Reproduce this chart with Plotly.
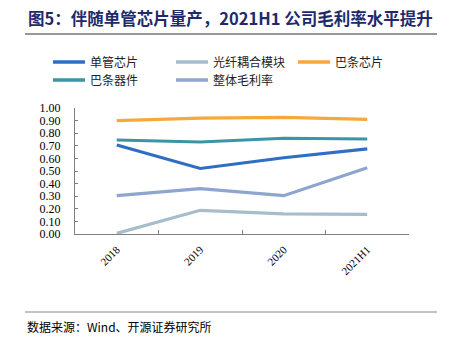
import plotly.graph_objects as go

categories = ["2018", "2019", "2020", "2021H1"]
series_names = ["单管芯片", "光纤耦合模块", "巴条芯片", "巴条器件", "整体毛利率"]
dan_guan = [0.706, 0.52, 0.605, 0.675]
guang_xian = [0.005, 0.188, 0.159, 0.156]
ba_tiao_xinpian = [0.90, 0.92, 0.925, 0.91]
ba_tiao_qijian = [0.746, 0.73, 0.76, 0.754]
zheng_ti = [0.304, 0.36, 0.304, 0.526]
colors = ["#2F6EC2", "#A6BDCB", "#F6A93B", "#3A95A6", "#8EA5CF"]
yticks = [0.0, 0.1, 0.2, 0.3, 0.4, 0.5, 0.6, 0.7, 0.8, 0.9, 1.0]

values = [dan_guan, guang_xian, ba_tiao_xinpian, ba_tiao_qijian, zheng_ti]

# plot area in pixels
L, R, T, B = 75, 409, 108, 234
W, H = R - L, B - T


def px(x):
    return (x - L) / W


def py(y):
    return (B - y) / H


fig = go.Figure()
for name, vals, c in zip(series_names, values, colors):
    fig.add_trace(go.Scatter(x=categories, y=vals, name=name, mode="lines",
                             line=dict(color=c, width=3.2), showlegend=False))

serif = "Liberation Serif, Noto Sans CJK SC, serif"
fig.update_layout(
    width=450, height=346,
    margin=dict(l=L, r=450 - R, t=T, b=346 - B),
    paper_bgcolor="white", plot_bgcolor="white",
    xaxis=dict(type="category", range=[-0.5, 3.5], showline=True, linecolor="#808080", linewidth=1,
               ticks="inside", ticklen=4, tickcolor="#808080", tickson="boundaries",
               tickangle=-45, showgrid=False, zeroline=False, ticklabelstandoff=4,
               tickfont=dict(family=serif, size=11, color="#000")),
    yaxis=dict(range=[0, 1.0], tickvals=yticks, tickformat=".2f",
               showline=True, linecolor="#808080", linewidth=1,
               ticks="inside", ticklen=3, tickcolor="#808080",
               showgrid=False, zeroline=False, ticklabelstandoff=11,
               tickfont=dict(family=serif, size=12, color="#000")),
)

# manual legend
legend_pos = [(53, 62), (176, 62), (298, 62), (53, 80), (176, 80)]
for name, c, (lx, ly) in zip(series_names, colors, legend_pos):
    fig.add_shape(type="line", xref="paper", yref="paper", x0=px(lx), x1=px(lx + 32),
                  y0=py(ly), y1=py(ly), line=dict(color=c, width=3.5))
    fig.add_annotation(text=name, xref="paper", yref="paper", x=px(lx + 35), y=py(ly),
                       xanchor="left", yanchor="middle", showarrow=False,
                       font=dict(family="Noto Sans CJK SC", size=12, color="#222"))

fig.add_annotation(text="<b>图5：伴随单管芯片量产，2021H1 公司毛利率水平提升</b>",
                   xref="paper", yref="paper", x=px(26), y=py(18),
                   xanchor="left", yanchor="middle", showarrow=False,
                   font=dict(family="Noto Sans CJK SC", size=16.5, color="#1F2A6B"))
fig.add_annotation(text="数据来源：Wind、开源证券研究所",
                   xref="paper", yref="paper", x=px(25), y=py(326),
                   xanchor="left", yanchor="middle", showarrow=False,
                   font=dict(family="Noto Sans CJK SC", size=12, color="#000"))
fig.add_shape(type="line", xref="paper", yref="paper", x0=px(25), x1=px(437),
              y0=py(34), y1=py(34), line=dict(color="#333", width=1.2))
fig.add_shape(type="line", xref="paper", yref="paper", x0=px(25), x1=px(437),
              y0=py(312), y1=py(312), line=dict(color="#888", width=1))

fig.write_html("out.html")
